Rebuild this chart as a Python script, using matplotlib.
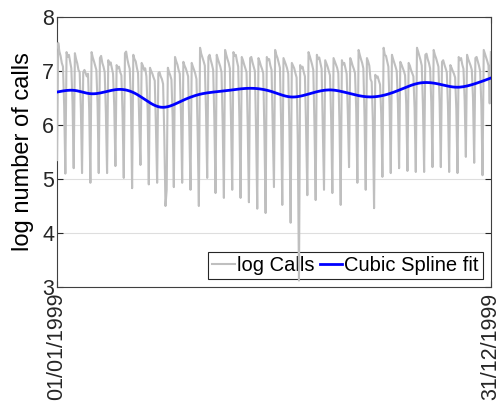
import numpy as np
import matplotlib
matplotlib.use("Agg")
import matplotlib.pyplot as plt

plt.rcParams["font.family"] = ["Liberation Sans", "DejaVu Sans"]

# daily log call counts, one row per week: [Sun, Mon, Tue, Wed, Thu, Fri, Sat]
weeks = [
    [5.35, 7.52, 7.36, 7.28, 7.15, 7.08, 6.35],
    [5.10, 7.35, 7.26, 7.30, 7.18, 7.05, 6.42],
    [5.20, 7.33, 7.22, 7.14, 7.02, 6.98, 6.30],
    [5.11, 6.98, 7.02, 6.96, 6.90, 6.95, 6.28],
    [4.93, 7.35, 7.25, 7.18, 7.10, 7.02, 6.40],
    [5.11, 7.24, 7.28, 7.15, 7.08, 6.98, 6.22],
    [5.11, 7.20, 7.12, 7.16, 7.05, 6.95, 6.35],
    [5.24, 7.11, 7.05, 7.08, 6.98, 6.92, 6.18],
    [5.02, 7.33, 7.36, 7.22, 7.12, 7.04, 6.45],
    [4.83, 7.30, 7.22, 7.18, 7.06, 6.96, 6.05],
    [5.26, 7.15, 7.10, 7.02, 7.05, 6.90, 6.30],
    [4.90, 7.06, 7.00, 6.95, 6.88, 6.82, 5.95],
    [4.93, 6.96, 6.98, 6.90, 6.85, 6.76, 5.80],
    [4.50, 4.80, 7.06, 6.98, 6.92, 6.84, 6.15],
    [4.85, 7.26, 7.18, 7.12, 7.02, 6.95, 6.20],
    [4.93, 7.17, 7.10, 7.05, 6.98, 6.90, 5.95],
    [4.80, 7.15, 7.08, 7.02, 6.95, 6.85, 5.85],
    [4.50, 7.43, 7.32, 7.25, 7.18, 7.10, 6.25],
    [5.02, 7.26, 7.30, 7.20, 7.12, 7.02, 6.10],
    [4.74, 7.30, 7.22, 7.15, 7.08, 6.98, 6.00],
    [4.65, 7.39, 7.30, 7.22, 7.15, 7.05, 6.05],
    [4.80, 7.35, 7.28, 7.30, 7.18, 7.08, 6.12],
    [4.65, 7.26, 7.20, 7.12, 7.05, 6.98, 5.98],
    [4.57, 7.24, 7.26, 7.16, 7.08, 7.00, 5.90],
    [4.45, 7.24, 7.18, 7.10, 7.04, 6.96, 5.85],
    [4.37, 7.26, 7.20, 7.22, 7.10, 7.02, 5.95],
    [4.85, 7.39, 7.30, 7.24, 7.15, 7.06, 6.05],
    [4.52, 7.24, 7.18, 7.12, 7.05, 6.95, 5.88],
    [4.19, 7.15, 7.10, 7.05, 6.96, 6.88, 5.70],
    [3.12, 7.11, 7.05, 7.08, 6.98, 6.90, 5.90],
    [4.70, 7.35, 7.28, 7.20, 7.12, 7.02, 6.00],
    [4.61, 7.30, 7.22, 7.25, 7.14, 7.04, 5.95],
    [4.80, 7.20, 7.14, 7.08, 7.00, 6.92, 6.10],
    [4.74, 7.24, 7.18, 7.12, 7.06, 6.96, 6.00],
    [4.52, 7.20, 7.12, 7.15, 7.05, 6.95, 6.20],
    [5.22, 7.24, 7.18, 7.10, 7.04, 6.96, 6.30],
    [4.93, 7.39, 7.30, 7.22, 7.15, 7.05, 6.15],
    [4.80, 7.24, 7.18, 7.10, 6.85, 6.80, 6.05],
    [4.46, 6.93, 6.88, 6.90, 6.82, 6.75, 6.20],
    [5.04, 7.43, 7.30, 7.28, 7.18, 7.08, 6.35],
    [5.11, 7.30, 7.22, 7.15, 7.08, 7.00, 6.40],
    [5.20, 7.17, 7.12, 7.06, 7.00, 6.92, 6.38],
    [5.15, 7.15, 7.10, 7.02, 6.96, 6.90, 6.30],
    [5.13, 7.43, 7.36, 7.28, 7.20, 7.10, 6.35],
    [5.13, 7.30, 7.32, 7.22, 7.15, 7.05, 6.42],
    [5.22, 7.39, 7.30, 7.24, 7.16, 7.08, 6.40],
    [5.22, 7.17, 7.20, 7.12, 7.05, 6.98, 6.35],
    [5.13, 7.11, 7.06, 7.00, 6.95, 6.88, 6.30],
    [5.11, 7.26, 7.20, 7.24, 7.12, 7.04, 6.45],
    [5.41, 7.30, 7.22, 7.16, 7.10, 7.02, 6.50],
    [5.30, 7.24, 7.26, 7.18, 7.10, 7.00, 6.38],
    [5.07, 7.39, 7.32, 7.25, 7.18, 7.10, 6.40],
]
last_day = [7.35]

# spline fit read at a few days of the year
spline_days = [0, 15, 28, 53, 66, 87, 105, 120, 140, 162, 180, 196, 212, 229,
               246, 263, 284, 305, 320, 335, 350, 364]
spline_vals = [6.61, 6.64, 6.58, 6.66, 6.58, 6.33, 6.45, 6.57, 6.63, 6.68, 6.62,
               6.52, 6.58, 6.65, 6.58, 6.52, 6.62, 6.78, 6.76, 6.70, 6.76, 6.87]

tick_labels = ["01/01/1999", "31/12/1999"]


def natural_spline(xk, yk, xs):
    xk = np.asarray(xk, float)
    yk = np.asarray(yk, float)
    n = len(xk)
    h = np.diff(xk)
    A = np.zeros((n, n))
    b = np.zeros(n)
    A[0, 0] = A[-1, -1] = 1.0
    for i in range(1, n - 1):
        A[i, i - 1] = h[i - 1]
        A[i, i] = 2 * (h[i - 1] + h[i])
        A[i, i + 1] = h[i]
        b[i] = 6 * ((yk[i + 1] - yk[i]) / h[i] - (yk[i] - yk[i - 1]) / h[i - 1])
    m = np.linalg.solve(A, b)
    idx = np.clip(np.searchsorted(xk, xs) - 1, 0, n - 2)
    x0, x1 = xk[idx], xk[idx + 1]
    hh = x1 - x0
    t0, t1 = x1 - xs, xs - x0
    return (m[idx] * t0 ** 3 / (6 * hh) + m[idx + 1] * t1 ** 3 / (6 * hh)
            + (yk[idx] / hh - m[idx] * hh / 6) * t0
            + (yk[idx + 1] / hh - m[idx + 1] * hh / 6) * t1)


calls = np.concatenate([np.ravel(weeks), last_day])
days = np.arange(len(calls))
fit = natural_spline(spline_days, spline_vals, days.astype(float))

fig = plt.figure(figsize=(5.01, 4.12), dpi=100)
ax = fig.add_axes([0.1138, 0.3034, 0.866, 0.6553])

ax.plot(days, calls, color="#bfbfbf", lw=1.5, label="log Calls", zorder=4)
ax.plot(days, fit, color="#0000ff", lw=2.0, label="Cubic Spline fit", zorder=5)

ax.set_xlim(0, days[-1])
ax.set_ylim(3, 8)
ax.set_yticks([3, 4, 5, 6, 7, 8])
ax.set_xticks([0, days[-1]])
ax.set_xticklabels(tick_labels, rotation=90)
ax.set_ylabel("log number of calls", fontsize=17, labelpad=6)
ax.tick_params(axis="both", direction="in", labelsize=15.5, colors="#262626",
               length=4, right=True, top=True, pad=2)
ax.tick_params(axis="x", pad=4)
ax.grid(True, axis="y", color="#dedede", lw=0.8)
ax.set_axisbelow(True)
for sp in ax.spines.values():
    sp.set_color("#404040")
    sp.set_linewidth(0.8)

leg = ax.legend(loc="lower right", ncol=2, fontsize=14.5, handlelength=1.1,
                handletextpad=0.1, columnspacing=0.3, borderpad=0.2,
                borderaxespad=0.4, fancybox=False, edgecolor="#262626",
                framealpha=1)
leg.get_frame().set_linewidth(0.8)
leg.set_zorder(3)

fig.savefig("out.png", dpi=100)
